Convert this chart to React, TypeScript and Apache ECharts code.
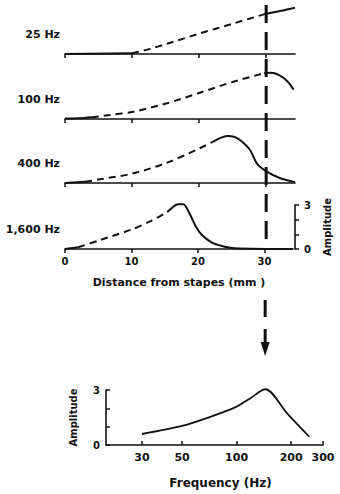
import React, { useEffect, useRef } from "react";
import * as echarts from "echarts";

// ---- data ----
const distanceTicks = [0, 10, 20, 30];
const panelLabels = ["25 Hz", "100 Hz", "400 Hz", "1,600 Hz"];

// [distance mm, amplitude]
const hz25SolidA = [[0, 0], [10, 0.05]];
const hz25Dashed = [[10, 0.05], [12.7, 0.35], [15.2, 0.7], [20.1, 1.4], [25.1, 2.08], [30, 2.75]];
const hz25SolidB = [[30, 2.75], [32.3, 2.95], [34.3, 3.15]];

const hz100SolidA = [[0, 0.03], [2, 0.05], [4, 0.12]];
const hz100Dashed = [[4, 0.12], [6.7, 0.27], [10.2, 0.5], [15.2, 1.07], [20.1, 1.79], [25.1, 2.54], [29.7, 3.12]];
const hz100SolidB = [[29.7, 3.12], [30.6, 3.16], [31.6, 3.07], [32.6, 2.8], [33.4, 2.45], [34.1, 2.0]];

const hz400SolidA = [[0, 0], [3, 0.08]];
const hz400Dashed = [[3, 0.08], [5.2, 0.25], [10.2, 0.66], [15.2, 1.38], [20.1, 2.37], [22.1, 2.82]];
const hz400SolidB = [[22.1, 2.82], [23.2, 3.08], [24.2, 3.2], [25.2, 3.15], [26.1, 2.93], [27.6, 2.25], [28.6, 1.34], [30.1, 0.77], [32.1, 0.32], [34.3, 0.05]];

const hz1600SolidA = [[0, 0], [2, 0.12]];
const hz1600Dashed = [[2, 0.12], [5.2, 0.6], [10.2, 1.36], [12.7, 1.86], [15.2, 2.47], [16.2, 2.85]];
const hz1600SolidB = [[16.2, 2.85], [17, 3.05], [17.8, 3.05], [18.7, 2.45], [19.7, 1.52], [20.6, 0.95], [22.1, 0.43], [23.6, 0.2], [25.5, 0.05], [34.3, 0]];

const amplitudeTicks = [0, 3];

const freqTicks = [30, 50, 100, 200, 300];
const freqHz = [30, 50, 68, 98, 119, 144, 190, 252];
const freqAmp = [0.6, 1.04, 1.46, 2.05, 2.55, 3.04, 1.73, 0.45];

// ---- layout ----
const INK = "#111";
const FONT = "DejaVu Sans";
const baselines = [54, 119, 183, 249];
const panelH = 44;

export default function App() {
  const ref = useRef<HTMLDivElement>(null);
  useEffect(() => {
    document.body.style.margin = "0";
    const chart = echarts.init(ref.current!, null, { renderer: "svg" });

    const panels = [
      { solid: [hz25SolidA, hz25SolidB], dashed: hz25Dashed },
      { solid: [hz100SolidA, hz100SolidB], dashed: hz100Dashed },
      { solid: [hz400SolidA, hz400SolidB], dashed: hz400Dashed },
      { solid: [hz1600SolidA, hz1600SolidB], dashed: hz1600Dashed },
    ];

    const grids: any[] = baselines.map((b) => ({
      left: 65, top: b - panelH, width: 230, height: panelH,
    }));
    grids.push({ left: 106, top: 390, width: 217, height: 55 });

    const xAxes: any[] = baselines.map((_, i) => ({
      type: "value", gridIndex: i, min: 0, max: 34.3, interval: 10,
      axisLine: { show: true, onZero: false, lineStyle: { color: INK, width: 1.6 } },
      axisTick: { show: true, inside: false, length: 4, customValues: distanceTicks, lineStyle: { color: INK, width: 1.5 } },
      axisLabel: {
        show: i === 3, customValues: distanceTicks, margin: 7,
        color: INK, fontFamily: FONT, fontWeight: "bold", fontSize: 10,
      },
      splitLine: { show: false },
      name: i === 3 ? "Distance from stapes (mm )" : "",
      nameLocation: "middle", nameGap: 28,
      nameTextStyle: { color: INK, fontFamily: FONT, fontWeight: "bold", fontSize: 11 },
    }));
    xAxes.push({
      type: "log", logBase: 10, gridIndex: 4, min: 19, max: 300,
      axisLine: { show: true, onZero: false, lineStyle: { color: INK, width: 1.6 } },
      axisTick: { show: true, inside: true, length: 4, customValues: freqTicks, lineStyle: { color: INK, width: 1.5 } },
      axisLabel: {
        customValues: freqTicks, margin: 7,
        color: INK, fontFamily: FONT, fontWeight: "bold", fontSize: 11,
      },
      splitLine: { show: false },
      minorTick: { show: false },
      name: "Frequency (Hz)", nameLocation: "middle", nameGap: 32,
      nameTextStyle: { color: INK, fontFamily: FONT, fontWeight: "bold", fontSize: 12, padding: [0, 0, 0, 12] },
    });

    const yAxes: any[] = baselines.map((_, i) => {
      if (i < 3) return { type: "value", gridIndex: i, min: 0, max: 3, show: false };
      return {
        type: "value", gridIndex: i, min: 0, max: 3, interval: 1,
        position: "right", offset: 2,
        axisLine: { show: true, onZero: false, lineStyle: { color: INK, width: 1.6 } },
        axisTick: { show: true, inside: false, length: 4, lineStyle: { color: INK, width: 1.5 } },
        axisLabel: {
          customValues: amplitudeTicks, margin: 9,
          color: INK, fontFamily: FONT, fontWeight: "bold", fontSize: 10,
        },
        splitLine: { show: false },
        name: "Amplitude", nameLocation: "middle", nameGap: 27, nameRotate: 90,
        nameTextStyle: { color: INK, fontFamily: FONT, fontWeight: "bold", fontSize: 10 },
      };
    });
    yAxes.push({
      type: "value", gridIndex: 4, min: 0, max: 3, interval: 1,
      axisLine: { show: true, onZero: false, lineStyle: { color: INK, width: 1.6 } },
      axisTick: { show: true, inside: true, length: 4, lineStyle: { color: INK, width: 1.5 } },
      axisLabel: {
        customValues: amplitudeTicks, margin: 6,
        color: INK, fontFamily: FONT, fontWeight: "bold", fontSize: 10,
      },
      splitLine: { show: false },
      name: "Amplitude", nameLocation: "middle", nameGap: 28, nameRotate: 90,
      nameTextStyle: { color: INK, fontFamily: FONT, fontWeight: "bold", fontSize: 10 },
    });

    const series: any[] = [];
    panels.forEach((p, i) => {
      p.solid.forEach((seg) => {
        series.push({
          type: "line", xAxisIndex: i, yAxisIndex: i, data: seg,
          symbol: "none", smooth: 0.3, clip: false, silent: true,
          lineStyle: { color: INK, width: 2 },
        });
      });
      series.push({
        type: "line", xAxisIndex: i, yAxisIndex: i, data: p.dashed,
        symbol: "none", smooth: 0.3, clip: false, silent: true,
        lineStyle: { color: INK, width: 2, type: [7, 5] },
      });
    });
    series.push({
      type: "line", xAxisIndex: 4, yAxisIndex: 4,
      data: freqHz.map((f, k) => [f, freqAmp[k]]),
      symbol: "none", smooth: 0.3, clip: false, silent: true,
      lineStyle: { color: INK, width: 1.8 },
    });

    chart.setOption({
      animation: false,
      backgroundColor: "#fff",
      textStyle: { fontFamily: FONT, color: INK },
      grid: grids,
      xAxis: xAxes,
      yAxis: yAxes,
      series,
    });

    const x30 = chart.convertToPixel({ gridIndex: 0 }, [30, 0])[0];
    const labelFont = { fontFamily: FONT, fontWeight: "bold", fontSize: 11, fill: INK } as any;
    const graphic: any[] = panelLabels.map((t, i) => ({
      type: "text", x: 60, y: baselines[i] - 20, silent: true,
      style: { ...labelFont, text: t, align: "right", verticalAlign: "middle" },
    }));
    graphic.push(
      { type: "line", silent: true, shape: { x1: x30, y1: 5, x2: x30, y2: 250 }, style: { stroke: INK, lineWidth: 3, lineDash: [18, 9] } },
      { type: "line", silent: true, shape: { x1: x30 - 1, y1: 300, x2: x30 - 1, y2: 317 }, style: { stroke: INK, lineWidth: 3 } },
      { type: "line", silent: true, shape: { x1: x30 - 1, y1: 329, x2: x30 - 1, y2: 344 }, style: { stroke: INK, lineWidth: 3 } },
      { type: "polygon", silent: true, shape: { points: [[x30 - 5.5, 342], [x30 + 3.5, 342], [x30 - 1, 356]] }, style: { fill: INK } },
    );
    chart.setOption({ graphic });

    return () => chart.dispose();
  }, []);
  return <div ref={ref} style={{ width: 340, height: 494 }} />;
}
